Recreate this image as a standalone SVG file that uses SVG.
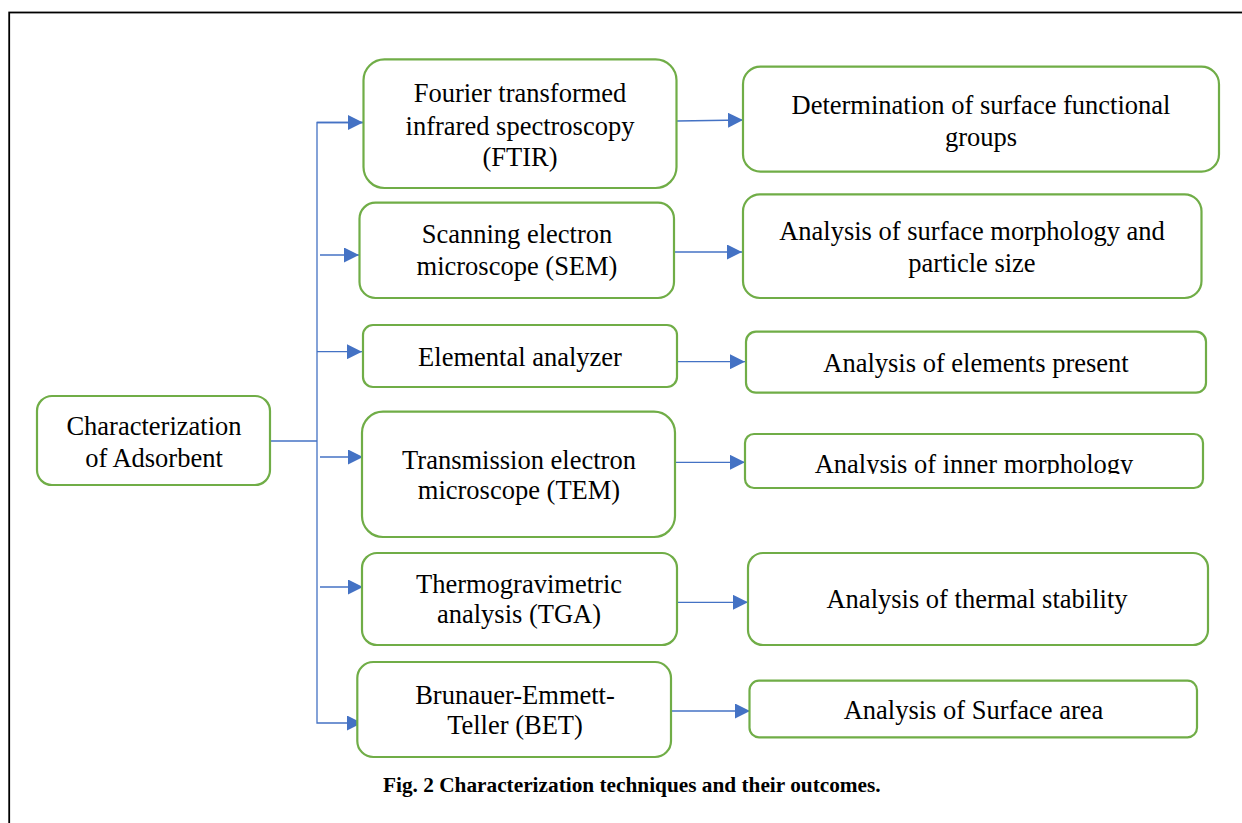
<svg xmlns="http://www.w3.org/2000/svg" width="1242" height="823" viewBox="0 0 1242 823">
<style>
.box{fill:#fff;stroke:#70AD47;stroke-width:2.2}
.t{font-family:"Liberation Serif","Times New Roman",serif;font-size:26.5px;fill:#000;text-anchor:middle}
.cap{font-family:"Liberation Serif","Times New Roman",serif;font-size:21.3px;font-weight:bold;fill:#000}
.c{fill:none;stroke:#4472C4;stroke-width:1.3}
</style>
<defs>
<marker id="ah" markerUnits="userSpaceOnUse" markerWidth="15" markerHeight="15" refX="15" refY="7.5" orient="auto" viewBox="0 0 15 15">
<path d="M0,0 L15,7.5 L0,15 z" fill="#4472C4"/>
</marker>
<clipPath id="clipInner"><rect x="740" y="430" width="470" height="44"/></clipPath>
</defs>
<rect x="9.2" y="12.5" width="1300" height="900" fill="none" stroke="#000" stroke-width="1.8"/>

<g id="connectors">
<path class="c" d="M270,441 H317"/>
<path class="c" d="M363,122.5 H317 V723 H362" marker-end="url(#ah)"/>
<path class="c" d="M317,122.5 H363" marker-end="url(#ah)"/>
<path class="c" d="M320,255 H359" marker-end="url(#ah)"/>
<path class="c" d="M317,351.7 H362" marker-end="url(#ah)"/>
<path class="c" d="M320,457 H363" marker-end="url(#ah)"/>
<path class="c" d="M320,587 H363" marker-end="url(#ah)"/>
<path class="c" d="M677,121 L743,120" marker-end="url(#ah)"/>
<path class="c" d="M674,252 H742" marker-end="url(#ah)"/>
<path class="c" d="M677,361.7 H745" marker-end="url(#ah)"/>
<path class="c" d="M675,462.3 H745" marker-end="url(#ah)"/>
<path class="c" d="M677,602.3 H748" marker-end="url(#ah)"/>
<path class="c" d="M671,711 H750" marker-end="url(#ah)"/>
</g>

<g id="root">
<rect class="box" x="37" y="396" width="233" height="89" rx="15"/>
<text class="t" x="154" y="435">Characterization</text>
<text class="t" x="154" y="467">of Adsorbent</text>
</g>

<g id="ftir">
<rect class="box" x="363.5" y="59.3" width="313" height="128.7" rx="21"/>
<text class="t" x="520" y="101.7">Fourier transformed</text>
<text class="t" x="520" y="135">infrared spectroscopy</text>
<text class="t" x="520" y="166">(FTIR)</text>
</g>
<g id="ftir-out">
<rect class="box" x="743" y="66.7" width="476" height="105" rx="17.5"/>
<text class="t" x="981" y="114">Determination of surface functional</text>
<text class="t" x="981" y="146">groups</text>
</g>

<g id="sem">
<rect class="box" x="359.5" y="202.7" width="314.5" height="95.3" rx="16"/>
<text class="t" x="517" y="243">Scanning electron</text>
<text class="t" x="517" y="275">microscope (SEM)</text>
</g>
<g id="sem-out">
<rect class="box" x="743" y="194.3" width="458.5" height="103.7" rx="17"/>
<text class="t" x="972" y="240">Analysis of surface morphology and</text>
<text class="t" x="972" y="271.7">particle size</text>
</g>

<g id="elemental">
<rect class="box" x="363" y="325" width="314" height="62" rx="10"/>
<text class="t" x="520" y="365.7">Elemental analyzer</text>
</g>
<g id="elemental-out">
<rect class="box" x="746" y="331.7" width="460" height="61" rx="10"/>
<text class="t" x="976" y="371.7">Analysis of elements present</text>
</g>

<g id="tem">
<rect class="box" x="362" y="411.7" width="313" height="125.3" rx="21"/>
<text class="t" x="519" y="469">Transmission electron</text>
<text class="t" x="519" y="499">microscope (TEM)</text>
</g>
<g id="tem-out">
<rect class="box" x="745" y="434" width="458" height="54" rx="9"/>
<text class="t" x="974" y="472.5" clip-path="url(#clipInner)">Analysis of inner morphology</text>
</g>

<g id="tga">
<rect class="box" x="362" y="553" width="315" height="92" rx="15"/>
<text class="t" x="519" y="593">Thermogravimetric</text>
<text class="t" x="519" y="623">analysis (TGA)</text>
</g>
<g id="tga-out">
<rect class="box" x="748" y="553" width="460" height="92" rx="15"/>
<text class="t" x="977" y="608.3">Analysis of thermal stability</text>
</g>

<g id="bet">
<rect class="box" x="357.3" y="662" width="313.7" height="95" rx="16"/>
<text class="t" x="515" y="704">Brunauer-Emmett-</text>
<text class="t" x="515" y="734">Teller (BET)</text>
</g>
<g id="bet-out">
<rect class="box" x="749.5" y="680.7" width="447.5" height="56.6" rx="9.5"/>
<text class="t" x="973.5" y="719.3">Analysis of Surface area</text>
</g>

<text class="cap" x="383" y="792">Fig. 2 Characterization techniques and their outcomes.</text>
</svg>
